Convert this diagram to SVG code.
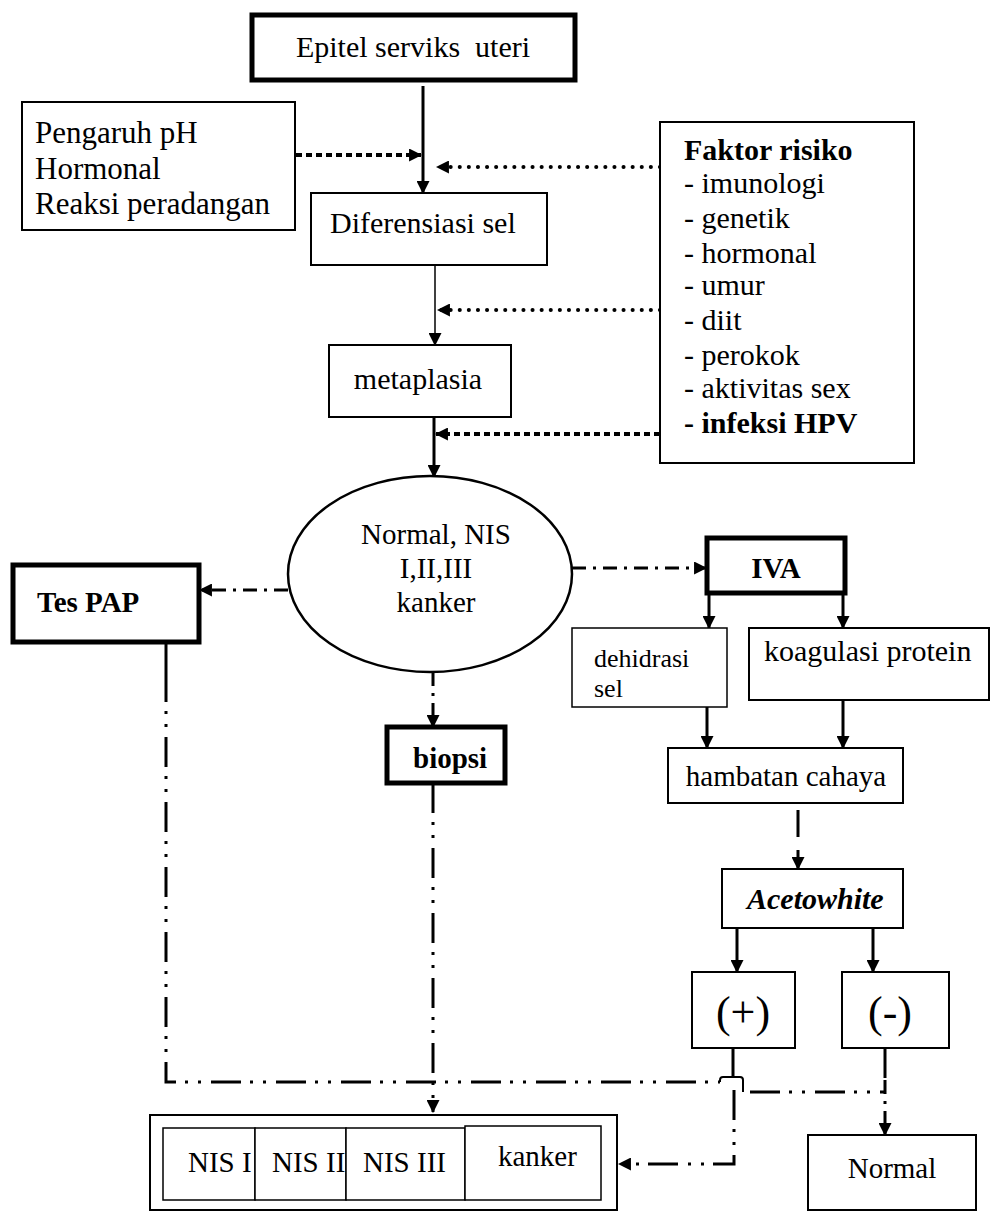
<svg xmlns="http://www.w3.org/2000/svg" width="992" height="1212" viewBox="0 0 992 1212">
<defs>
<marker id="ah" viewBox="0 0 12 12" refX="11" refY="6" markerWidth="13" markerHeight="13" markerUnits="userSpaceOnUse" orient="auto"><path d="M0,0 L12,6 L0,12 z" fill="#000"/></marker>
<style>
.box{fill:#fff;stroke:#000;stroke-width:2}
.thin{fill:#fff;stroke:#000;stroke-width:1.5}
.thick{fill:#fff;stroke:#000;stroke-width:5}
text{font-family:"Liberation Serif","Times New Roman",serif;font-size:30px;fill:#000}
.b{font-weight:bold}
.i{font-style:italic}
.c{text-anchor:middle}
.s26{font-size:26px}
.s29{font-size:29px}
.s31{font-size:31px}
.s44{font-size:44px}
.ln{fill:none;stroke:#000}
.solid{stroke-width:3}
.sq{stroke-width:4;stroke-dasharray:6 4}
.rd{stroke-width:4;stroke-dasharray:0.1 9;stroke-linecap:round}
.dd{stroke-width:3;stroke-dasharray:30 9 3 10 3 10}
.da{stroke-width:3;stroke-dasharray:14 7 3 7}
</style>
</defs>
<g id="connectors">
<path class="ln solid" d="M423,86 V193" marker-end="url(#ah)"/>
<path class="ln sq" d="M296,155 H421" marker-end="url(#ah)"/>
<path class="ln rd" d="M660,167 H437" marker-end="url(#ah)"/>
<path class="ln" stroke-width="1.5" d="M435,265 V345" marker-end="url(#ah)"/>
<path class="ln rd" d="M660,310 H438" marker-end="url(#ah)"/>
<path class="ln solid" d="M434,417 V477" marker-end="url(#ah)"/>
<path class="ln sq" d="M660,434 H436" marker-end="url(#ah)"/>
<path class="ln da" d="M288,590 H200" marker-end="url(#ah)"/>
<path class="ln da" d="M572,568 H706" marker-end="url(#ah)"/>
<path class="ln solid" d="M709,593 V628" marker-end="url(#ah)"/>
<path class="ln solid" d="M843,593 V628" marker-end="url(#ah)"/>
<path class="ln solid" d="M707,707 V748" marker-end="url(#ah)"/>
<path class="ln solid" d="M843,700 V748" marker-end="url(#ah)"/>
<path class="ln solid" d="M798,810 V869" stroke-dasharray="27 13 30" marker-end="url(#ah)"/>
<path class="ln solid" d="M737,928 V972" marker-end="url(#ah)"/>
<path class="ln solid" d="M873,928 V972" marker-end="url(#ah)"/>
<path class="ln da" d="M433,672 V727" marker-end="url(#ah)"/>
<path class="ln dd" d="M433,783 V1112" marker-end="url(#ah)"/>
<path class="ln solid" d="M166,642 V672"/>
<path class="ln dd" d="M166,672 V1082 H720"/>
<path class="ln" stroke-width="2" d="M720,1082 V1080 Q720,1077 723,1077 H740 Q743,1077 743,1080 V1092"/>
<path class="ln dd" d="M750,1092 H885"/>
<path class="ln solid" d="M733,1048 V1077"/>
<path class="ln dd" d="M734,1090 V1164 H619" marker-end="url(#ah)"/>
<path class="ln solid" d="M885,1048 V1078"/>
<path class="ln da" d="M885,1080 V1135" marker-end="url(#ah)"/>
</g>
<g id="epitel"><rect class="thick" x="252" y="15" width="323" height="65"/><text class="c" x="413" y="57">Epitel serviks&#160; uteri</text></g>
<g id="pengaruh"><rect class="box" x="22" y="102" width="273" height="128"/><text class="s31" x="35" y="143">Pengaruh pH</text><text class="s31" x="35" y="179">Hormonal</text><text class="s31" x="35" y="214">Reaksi peradangan</text></g>
<g id="faktor"><rect class="box" x="660" y="122" width="254" height="341"/>
<text class="b" x="684" y="160">Faktor risiko</text>
<text x="684" y="193">- imunologi</text>
<text x="684" y="228">- genetik</text>
<text x="684" y="263">- hormonal</text>
<text x="684" y="295">- umur</text>
<text x="684" y="330">- diit</text>
<text x="684" y="365">- perokok</text>
<text x="684" y="398">- aktivitas sex</text>
<text class="b" x="684" y="433">- infeksi HPV</text></g>
<g id="diferensiasi"><rect class="box" x="311" y="193" width="236" height="72"/><text x="330" y="233">Diferensiasi sel</text></g>
<g id="metaplasia"><rect class="box" x="329" y="345" width="182" height="72"/><text class="c" x="418" y="389">metaplasia</text></g>
<g id="kondisi"><ellipse cx="430" cy="574" rx="142" ry="98" fill="#fff" stroke="#000" stroke-width="2.5"/>
<text class="c s29" x="436" y="544">Normal, NIS</text><text class="c s29" x="436" y="578">I,II,III</text><text class="c s29" x="436" y="612">kanker</text></g>
<g id="tespap"><rect class="thick" x="13" y="565" width="186" height="77"/><text class="b s29" x="37" y="612">Tes PAP</text></g>
<g id="iva"><rect class="thick" x="707" y="538" width="138" height="55"/><text class="b c s29" x="776" y="578">IVA</text></g>
<g id="dehidrasi"><rect class="thin" x="572" y="628" width="155" height="79"/><text class="s26" x="594" y="667">dehidrasi</text><text class="s26" x="594" y="697">sel</text></g>
<g id="koagulasi"><rect class="box" x="749" y="628" width="240" height="72"/><text x="764" y="661">koagulasi protein</text></g>
<g id="hambatan"><rect class="box" x="668" y="748" width="235" height="55"/><text class="c s29" x="786" y="786">hambatan cahaya</text></g>
<g id="acetowhite"><rect class="box" x="722" y="869" width="181" height="59"/><text class="b i" x="747" y="909">Acetowhite</text></g>
<g id="positif"><rect class="box" x="692" y="972" width="103" height="76"/><text class="c s44" x="743" y="1027">(+)</text></g>
<g id="negatif"><rect class="box" x="842" y="972" width="107" height="76"/><text class="c s44" x="890" y="1027">(-)</text></g>
<g id="biopsi"><rect class="thick" x="387" y="727" width="118" height="56"/><text class="b s29" x="413" y="768">biopsi</text></g>
<g id="hasil"><rect class="box" x="150" y="1115" width="467" height="95"/>
<rect class="thin" x="163" y="1128" width="92" height="72"/>
<rect class="thin" x="255" y="1128" width="91" height="72"/>
<rect class="thin" x="346" y="1128" width="119" height="72"/>
<rect class="thin" x="465" y="1126" width="136" height="74"/>
<text class="s29" x="188" y="1172">NIS I</text><text class="s29" x="272" y="1172">NIS II</text><text class="s29" x="363" y="1172">NIS III</text><text class="s29" x="498" y="1166">kanker</text></g>
<g id="normal"><rect class="box" x="808" y="1135" width="168" height="75"/><text class="c s29" x="892" y="1178">Normal</text></g>
</svg>
